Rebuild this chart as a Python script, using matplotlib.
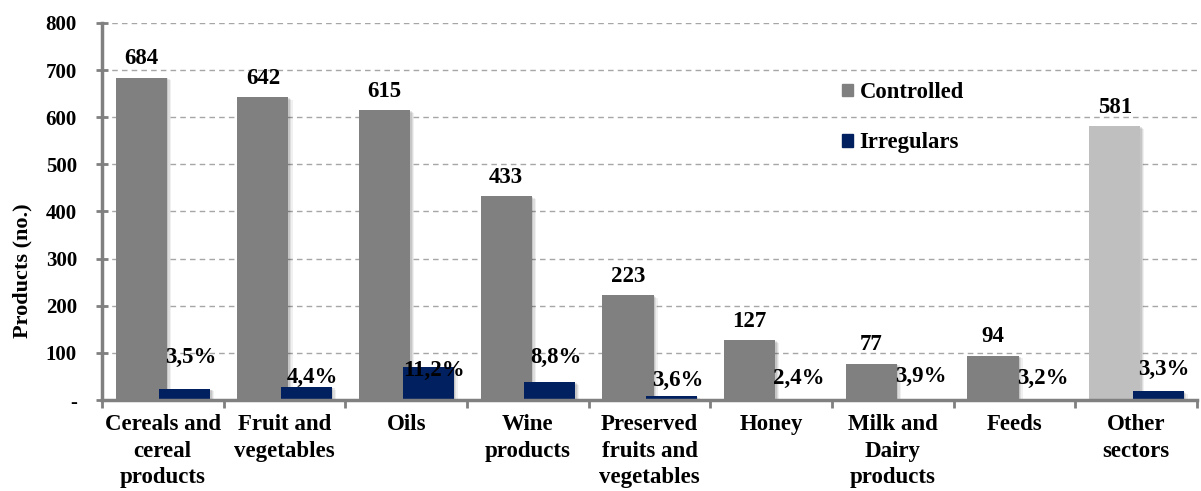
import numpy as np
import matplotlib
matplotlib.use("Agg")
import matplotlib.pyplot as plt
from matplotlib.patches import Patch
import matplotlib.patheffects as pe

# data
categories = ["Cereals and\ncereal\nproducts", "Fruit and\nvegetables", "Oils", "Wine\nproducts",
              "Preserved\nfruits and\nvegetables", "Honey", "Milk and\nDairy\nproducts", "Feeds",
              "Other\nsectors"]
controlled = [684, 642, 615, 433, 223, 127, 77, 94, 581]
irregulars = [24, 28, 69, 38, 8, 3, 3, 3, 19]
irregular_pct = ["3,5%", "4,4%", "11,2%", "8,8%", "3,6%", "2,4%", "3,9%", "3,2%", "3,3%"]
yticks = [0, 100, 200, 300, 400, 500, 600, 700, 800]
ytick_labels = ["-", "100", "200", "300", "400", "500", "600", "700", "800"]

# layout only: where the percent labels sit (data units)
pct_label_y = [91, 47, 62, 90, 42, 45, 50, 45, 65]

plt.rcParams["font.family"] = ["Liberation Serif", "DejaVu Serif"]
plt.rcParams["font.weight"] = "bold"

GREY = "#808080"
LIGHT = "#BFBFBF"
NAVY = "#002060"

fig = plt.figure(figsize=(12.01, 4.91), dpi=100)
ax = fig.add_axes([0.0849, 0.1853, 0.9118, 0.7679])

x = np.arange(len(categories))
w = 0.42
ctrl_colors = [GREY] * (len(categories) - 1) + [LIGHT]
shadow = [pe.SimplePatchShadow(offset=(3, -2), shadow_rgbFace="#000000", alpha=0.06),
          pe.SimplePatchShadow(offset=(2, -1.2), shadow_rgbFace="#000000", alpha=0.08),
          pe.SimplePatchShadow(offset=(1, -0.6), shadow_rgbFace="#000000", alpha=0.1),
          pe.Normal()]

bars_c = ax.bar(x - 0.177, controlled, w, color=ctrl_colors, zorder=3)
bars_i = ax.bar(x + 0.18, irregulars, w, color=NAVY, zorder=4)
for b in list(bars_c) + list(bars_i):
    b.set_path_effects(shadow)

for xi, v in zip(x, controlled):
    ax.annotate(f"{v}", (xi - 0.177, v), xytext=(0, 6), textcoords="offset points",
                ha="center", va="bottom", fontsize=16.5, fontweight="bold", zorder=6)
for xi, lab, ly in zip(x, irregular_pct, pct_label_y):
    ax.text(xi + 0.23, ly, lab, ha="center", va="center", fontsize=16.5,
            fontweight="bold", zorder=6)

ax.set_xlim(-0.5, len(categories) - 0.5)
ax.set_ylim(0, 800)
ax.set_yticks(yticks)
ax.set_yticklabels(ytick_labels, fontsize=15, fontweight="bold")
ax.set_xticks(x)
ax.set_xticklabels(categories, fontsize=16.5, fontweight="bold", va="top", linespacing=1.36)
ax.set_xticks(np.arange(-0.5, len(categories)), minor=True)
ax.tick_params(axis="x", which="major", length=0, pad=10)
ax.tick_params(axis="x", which="minor", length=6, width=2, color=GREY, direction="out")
ax.tick_params(axis="y", which="major", length=8, width=2, color=GREY, direction="inout", pad=14)

ax.grid(axis="y", linestyle=(0, (4, 3)), color="#A6A6A6", linewidth=1, zorder=0)
ax.set_axisbelow(True)
for s in ["top", "right"]:
    ax.spines[s].set_visible(False)
for s in ["left", "bottom"]:
    ax.spines[s].set_color(GREY)
    ax.spines[s].set_linewidth(2.5)
    ax.spines[s].set_zorder(5)

fig.text(0.019, 1 - 271 / 491, "Products (no.)", rotation=90, ha="center", va="center",
         fontsize=16, fontweight="bold")

handles = [Patch(color=GREY), Patch(color=NAVY)]
fig.legend(handles, ["Controlled", "Irregulars"], loc="upper left",
           bbox_to_anchor=(842 / 1201, 1 - 82 / 491), frameon=False, borderpad=0,
           borderaxespad=0, handlelength=0.48, handleheight=0.48, handletextpad=0.3,
           labelspacing=1.3, prop={"size": 16.3, "weight": "bold"})

fig.savefig("out.png", dpi=100)
